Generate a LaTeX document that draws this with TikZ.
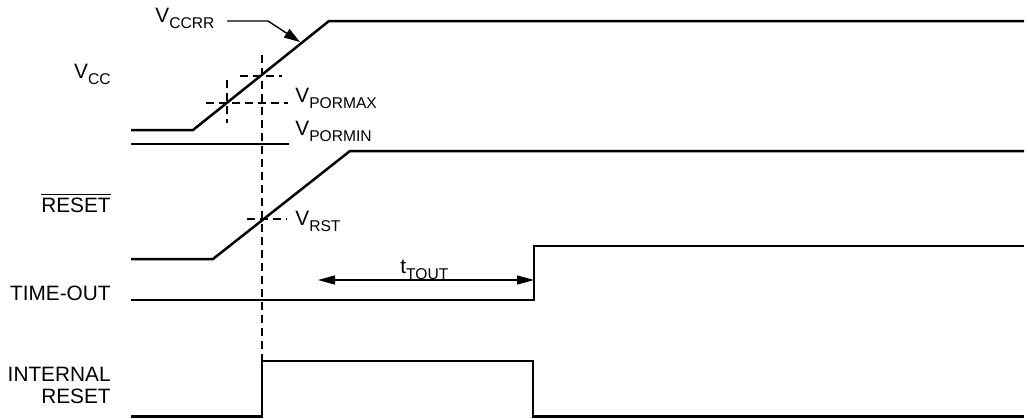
\documentclass[tikz,border=0pt]{standalone}
\usepackage{fontspec}
\setmainfont{Liberation Sans}
\usetikzlibrary{arrows.meta}
\newcommand{\vsub}[2]{#1\raisebox{-3pt}{\fontsize{7.8}{8}\selectfont #2}}

\begin{document}
\begin{tikzpicture}[x=0.5pt,y=-0.5pt,
  sig/.style={line width=1.25pt},
  guide/.style={line width=0.7pt,dash pattern=on 4pt off 2.5pt},
  lead/.style={line width=0.7pt},
  lbl/.style={inner sep=0pt,font=\fontsize{10.4}{12}\selectfont}]
  \useasboundingbox (0,0) rectangle (1028,418);

  % V_CC
  \coordinate (vcc0) at (131,130);
  \coordinate (vcc1) at (193,130);
  \coordinate (vcc2) at (329,21);
  \coordinate (vcc3) at (1024,21);
  % V_PORMIN level
  \coordinate (pmin0) at (131,144);
  \coordinate (pmin1) at (289,144);
  % RESET
  \coordinate (rst0) at (131,259);
  \coordinate (rst1) at (213,259);
  \coordinate (rst2) at (350,151);
  \coordinate (rst3) at (1024,151);
  % TIME-OUT
  \coordinate (to0) at (131,300);
  \coordinate (to1) at (534,300);
  \coordinate (to2) at (534,246);
  \coordinate (to3) at (1024,246);
  % INTERNAL RESET
  \coordinate (ir0) at (131,416.5);
  \coordinate (ir1) at (262,416.5);
  \coordinate (ir2) at (262,361);
  \coordinate (ir3) at (533,361);
  \coordinate (ir4) at (533,416.5);
  \coordinate (ir5) at (1024,416.5);

  % crossing points
  \coordinate (pmax) at (227,103);
  \coordinate (prr) at (262,76);
  \coordinate (vrst) at (262,219);
  \coordinate (ccrr0) at (227,21);
  \coordinate (ccrr1) at (268,21);
  \coordinate (ccrr2) at (300,42);
  \coordinate (tout0) at (318,280);
  \coordinate (tout1) at (534,280);

  % signal names
  \node[lbl,anchor=base east] (lvcc) at (111,78) {\vsub{V}{CC}};
  \node[lbl,anchor=base east] (lrst) at (111,212) {$\overline{\hbox{RESET}}$};
  \node[lbl,anchor=base east] (lto) at (111,300) {TIME-OUT};
  \node[lbl,anchor=base east] (lint) at (111,381) {INTERNAL};
  \node[lbl,anchor=base east] (lires) at (111,403) {RESET};

  % levels
  \node[lbl,anchor=base west] (lccrr) at (155,22) {\vsub{V}{CCRR}};
  \node[lbl,anchor=base west] (lpmax) at (295,102) {\vsub{V}{PORMAX}};
  \node[lbl,anchor=base west] (lpmin) at (295,135) {\vsub{V}{PORMIN}};
  \node[lbl,anchor=base west] (lvrst) at (295,225) {\vsub{V}{RST}};
  \node[lbl,anchor=base west] (ltout) at (400,273) {\vsub{t}{TOUT}};

  \draw[sig] (vcc0) -- (vcc1) -- (vcc2) -- (vcc3);
  \draw[sig] (pmin0) -- (pmin1);
  \draw[sig] (rst0) -- (rst1) -- (rst2) -- (rst3);
  \draw[sig] (to0) -- (to1) -- (to2) -- (to3);
  \draw[sig] (ir0) -- (ir1) -- (ir2) -- (ir3) -- (ir4) -- (ir5);

  \draw[guide] ([xshift=-10.5pt]pmax) -- ([xshift=30.5pt]pmax);
  \draw[guide] ([yshift=11.5pt]pmax) -- ([yshift=-10pt]pmax);
  \draw[guide] ([xshift=-11pt]prr) -- ([xshift=10pt]prr);
  \draw[guide] ([xshift=-7.5pt]vrst) -- ([xshift=12.5pt]vrst);
  \draw[guide] ([yshift=10.5pt]prr) -- (ir2);

  \draw[lead,-{Triangle[length=8pt,width=5pt]}] (ccrr0) -- (ccrr1) -- (ccrr2);
  \draw[lead,{Triangle[length=8.5pt,width=4.5pt]}-{Triangle[length=8.5pt,width=4.5pt]}] (tout0) -- (tout1);
\end{tikzpicture}
\end{document}
